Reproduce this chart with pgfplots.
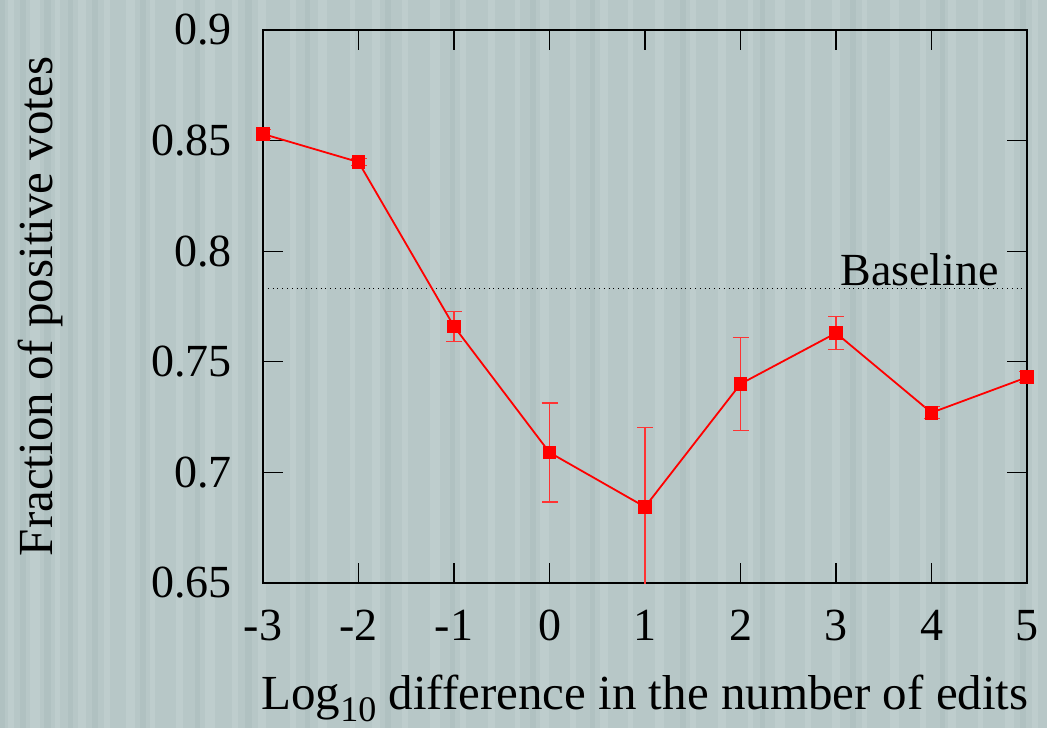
\documentclass[border=0pt]{standalone}
\usepackage{pgfplots}
\pgfplotsset{compat=1.18}
\usepackage{fontspec}
\setmainfont{Liberation Serif}
\newfontfamily\tnr{Liberation Serif}
\definecolor{bgA}{RGB}{183,199,199}
\definecolor{bgB}{RGB}{190,205,205}
\definecolor{bgC}{RGB}{176,193,193}
\definecolor{ptred}{RGB}{255,0,0}
\newcommand{\lblfont}{\tnr\fontsize{23}{27}\selectfont}
\newcommand{\axlblfont}{\tnr\fontsize{24.5}{29}\selectfont}
\begin{document}
\begin{tikzpicture}[x=0.5pt,y=0.5pt]
\useasboundingbox (0,0) rectangle (1047,728);
% striped backdrop
\fill[bgA] (0,0) rectangle (1047,728);
\foreach \s/\w in {8/6,30/10,55/5,78/8,104/6,126/9,150/5,176/7,205/10,232/6,258/8,290/6,318/9,350/5,372/8,402/6,430/10,460/6,488/7,515/5,540/9,570/6,600/8,628/5,655/9,690/6,718/8,748/5,775/10,805/6,832/8,862/5,890/9,920/6,948/8,978/5,1005/9,1032/6}
  \fill[bgB] (\s,0) rectangle (\s+\w,728);
\foreach \s/\w in {0/5,20/6,44/7,68/5,92/6,140/6,195/5,245/7,305/5,385/6,450/5,530/6,590/5,680/6,760/5,850/6,940/5,1020/6}
  \fill[bgC] (\s,0) rectangle (\s+\w,728);
\begin{axis}[
  at={(263*0.5pt,145*0.5pt)}, anchor=south west,
  scale only axis, width=382pt, height=276.5pt,
  xmin=-3, xmax=5, ymin=0.65, ymax=0.9,
  xtick={-3,...,5},
  xticklabels={-3,-2,-1,0,1,2,3,4,5},
  ytick={0.65,0.7,0.75,0.8,0.85,0.9},
  yticklabels={0.65,0.7,0.75,0.8,0.85,0.9},
  tick align=inside, major tick length=10pt,
  tick style={black, line width=0.6pt},
  axis line style={black, line width=0.8pt},
  ticklabel style={font=\lblfont},
  xticklabel style={anchor=north, yshift=-10pt},
  yticklabel style={anchor=east, xshift=-12pt},
  xlabel={Log\raisebox{-6pt}{\fontsize{18}{20}\selectfont 10} difference in the number of edits},
  ylabel={Fraction of positive votes},
  label style={font=\axlblfont},
  xlabel style={at={(axis description cs:0.5,0)}, anchor=base, inner sep=0pt, yshift=-63pt},
  ylabel style={at={(axis description cs:-0.2526,0.5)}, anchor=south},
]
% reference rate over all votes
\addplot[black, line width=0.4pt, dotted, forget plot] coordinates {(-3,0.7834) (5,0.7834)};
\node[anchor=south east, font=\lblfont, inner sep=1pt] at (axis cs:4.73,0.7834) {Baseline};
\addplot[ptred, line width=0.9pt, mark=square*, mark size=3pt,
  mark options={solid},
  error bars/.cd, y dir=both, y explicit,
  error bar style={ptred!80!white, line width=0.6pt},
  error mark options={rotate=90, mark size=4pt, ptred!80!white, line width=0.6pt}]
  table[x=x, y=y, y error=e] {
  x  y       e
  -3 0.8530  0.0020
  -2 0.8403  0.0015
  -1 0.7660  0.0068
  0  0.7090  0.0224
  1  0.6844  0.0360
  2  0.7400  0.0210
  3  0.7630  0.0075
  4  0.7270  0.0027
  5  0.7430  0.0025
};
\end{axis}
\end{tikzpicture}
\end{document}
